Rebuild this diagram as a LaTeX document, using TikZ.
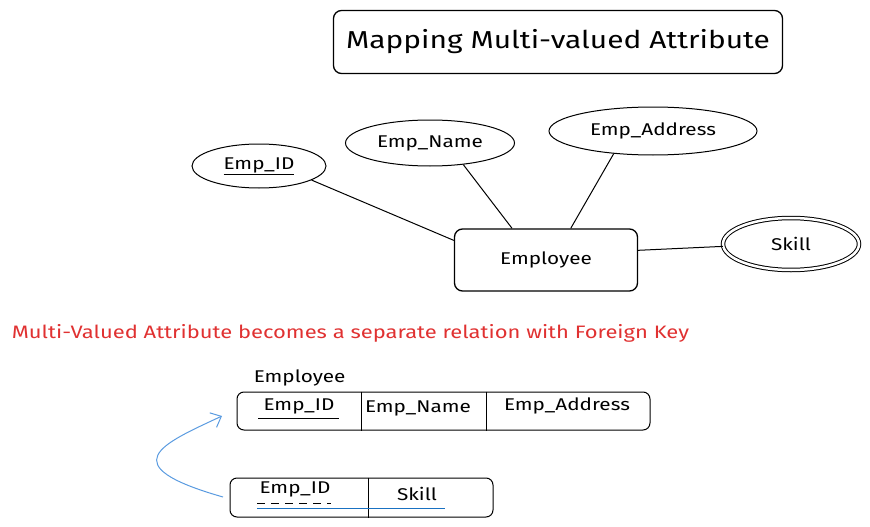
\documentclass[tikz,border=0pt]{standalone}
\usepackage{fontspec}
\setmainfont[FakeStretch=1.22]{Fira Sans}
\usetikzlibrary{shapes.geometric,arrows.meta}

\definecolor{fkred}{HTML}{E03131}
\definecolor{fkblue}{HTML}{1971C2}
\definecolor{arrowblue}{HTML}{5A9BE0}

\begin{document}
\begin{tikzpicture}[x     = 1pt,
                    y     = -1pt,
                    font  = {\fontsize{17}{20}\selectfont},
                    line width = 1pt]
% styles of boxes
\tikzset{attr/.style 2 args={ellipse,draw,inner sep=0pt,minimum width=#1,minimum height=#2},
         entitybox/.style={draw,rounded corners=8pt,line width=1.3pt},
         tablebox/.style={draw,rounded corners=7pt,inner sep=0pt},
         link/.style={draw}}
\useasboundingbox (0,0) rectangle (870,527);
% title
\node[entitybox,minimum width=449pt,minimum height=63pt,
      font={\fontsize{24.5}{28}\selectfont}] (title) at (558,42) {Mapping Multi-valued Attribute};
% ER diagram
\node[entitybox,minimum width=183pt,minimum height=62pt] (employee) at (546,260) {\raisebox{-3pt}{Employee}};
\node[attr={134pt}{44pt}] (empid)   at (259,166) {\underline{Emp\_ID}};
\node[attr={169pt}{46pt}] (empname) at (430,143) {Emp\_Name};
\node[attr={208pt}{48pt}] (empaddr) at (653,131) {Emp\_Address};
\node[attr={136pt}{52pt},double,double distance=2.5pt] (skill) at (791,244) {Skill};
\draw[link] (empid.-15)   -- (employee.168);
\draw[link] (empname.-33) -- (employee.137);
\draw[link] (empaddr.210) -- (employee.52);
\draw[link] (employee.6)  -- (skill.182);
% note
\node[anchor=west,text=fkred,font={\fontsize{18}{20}\selectfont}] (note) at (8,333)
  {Multi-Valued Attribute becomes a separate relation with Foreign Key};
% relation "Employee"
\node[anchor=west] (emplabel) at (250,378) {Employee};
\node[tablebox,minimum width=413pt,minimum height=38pt] (emptab) at (443.5,411) {};
\draw (emptab.north -| 361,0) -- (emptab.south -| 361,0);
\draw (emptab.north -| 486,0) -- (emptab.south -| 486,0);
\node (tabid)   at (299,406) {Emp\_ID};
\node (tabname) at (418,408) {Emp\_Name};
\node (tabaddr) at (567,406) {Emp\_Address};
\draw (258,418) -- (339,418);
% relation "Skill"
\node[tablebox,minimum width=263pt,minimum height=39pt] (skilltab) at (361.5,497.5) {};
\draw (skilltab.north -| 368,0) -- (skilltab.south -| 368,0);
\node (skid)    at (295,489) {Emp\_ID};
\node (skskill) at (417,494) {Skill};
\draw[dash pattern=on 8pt off 6pt] (257,503) -- (331,503);
\draw[fkblue,line width=1.6pt] (257,508.5) -- (445,508.5);
% foreign key arrow
\coordinate (fk) at (223,497);
\coordinate (pk) at (222,416);
\draw[arrowblue,-{Straight Barb[length=9pt,width=16pt]}]
  (fk) .. controls (111,465) and (162,444) .. (pk);
\end{tikzpicture}
\end{document}
